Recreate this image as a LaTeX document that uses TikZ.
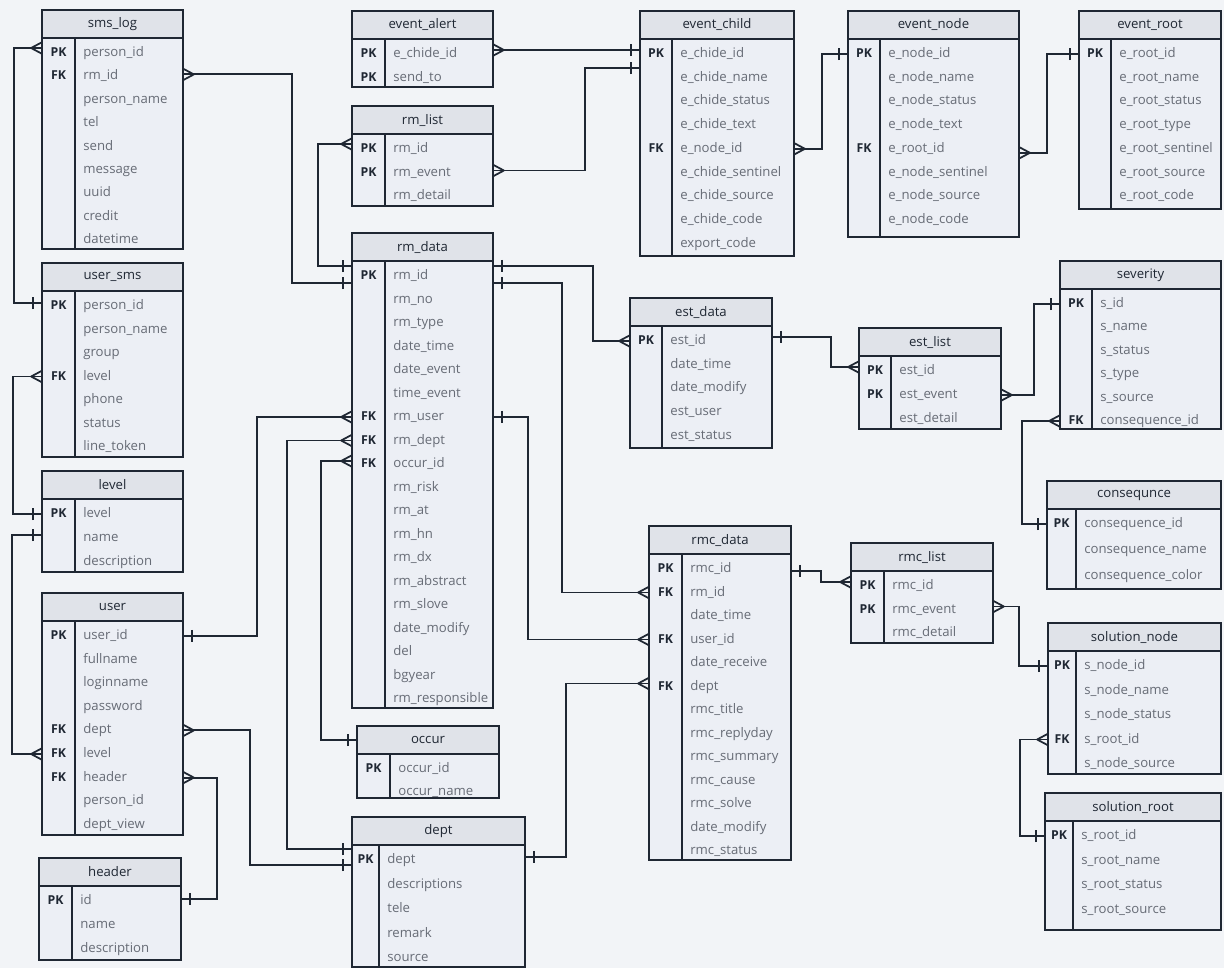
\documentclass[tikz,border=0pt]{standalone}
\usepackage{fontspec}
\setmainfont{Open Sans}
\usetikzlibrary{calc,decorations.markings}

\definecolor{pagebg}{HTML}{F2F4F7}
\definecolor{headbg}{HTML}{E0E3E9}
\definecolor{bodybg}{HTML}{ECEFF5}
\definecolor{ink}{HTML}{1F2733}
\definecolor{fieldgray}{HTML}{676C76}

\tikzset{
  tabletitle/.style={inner sep=0,minimum height=0.5cm,text=ink,font=\fontsize{7.5}{9}\selectfont},
  rowbox/.style={inner sep=0,minimum height=0},
  keytext/.style={inner sep=0,text=ink,text height=5.5pt,text depth=1.5pt,font=\fontsize{7}{9}\selectfont\bfseries},
  fieldtext/.style={anchor=west,inner sep=0,text=fieldgray,text height=5.5pt,text depth=1.5pt,font=\fontsize{7.5}{9}\selectfont},
  rel/.style={draw=ink,line width=1.1pt,postaction={decorate,decoration={markings,
    mark=at position 0 with {\draw[ink,line width=1pt] (6pt,0) -- (0,3.2pt) (6pt,0) -- (0,-3.2pt);},
    mark=at position -5pt with {\draw[ink,line width=1.1pt] (0,-3.5pt) -- (0,3.5pt);}}}}
}

% table: name, title, left, top, right, key divider, bottom, row step, rows
\newcommand{\ertable}[9]{%
  \fill[bodybg] (#3,#4) rectangle (#5,#7);
  \fill[headbg] (#3,#4) rectangle (#5,#4+28);
  \node[tabletitle,minimum width={(#5-#3)*0.02cm}] (#1) at ({(#3+#5)/2},#4+14) {#2};
  \foreach \k/\f [count=\i] in {#9}{%
    \node[rowbox,minimum width={(#5-#3)*0.02cm}] (#1-\i) at ({(#3+#5)/2},{#4+43+(\i-1)*#8}) {};
    \node[keytext] at ({(#3+#6)/2},{#4+43+(\i-1)*#8}) {\k};
    \node[fieldtext] at (#6+8,{#4+43+(\i-1)*#8}) {\f};
  }
  \draw[ink,line width=0.8pt] (#3,#4) rectangle (#5,#7) (#3,#4+28) -- (#5,#4+28) (#6,#4+28) -- (#6,#7);
}

\begin{document}
\begin{tikzpicture}[x=0.02cm,y=-0.02cm]
\useasboundingbox (0,0) rectangle (1224,968);
\fill[pagebg] (0,0) rectangle (1224,968);

% left column
\ertable{smslog}{sms\_log}{42}{10}{183}{75}{249}{23.4}{PK/person\_id, FK/rm\_id, /person\_name, /tel, /send, /message, /uuid, /credit, /datetime}
\ertable{usersms}{user\_sms}{42}{263}{183}{75}{457}{23.5}{PK/person\_id, /person\_name, /group, FK/level, /phone, /status, /line\_token}
\ertable{level}{level}{42}{471}{183}{75}{572}{24}{PK/level, /name, /description}
\ertable{user}{user}{42}{593}{183}{75}{835}{23.6}{PK/user\_id, /fullname, /loginname, /password, FK/dept, FK/level, FK/header, /person\_id, /dept\_view}
\ertable{header}{header}{39}{858}{181}{72}{960}{24}{PK/id, /name, /description}

% middle column
\ertable{eventalert}{event\_alert}{352}{11}{493}{385}{87}{23.5}{PK/e\_chide\_id, PK/send\_to}
\ertable{rmlist}{rm\_list}{352}{106}{493}{385}{206}{23.5}{PK/rm\_id, PK/rm\_event, /rm\_detail}
\ertable{rmdata}{rm\_data}{352}{233}{493}{385}{708}{23.5}{PK/rm\_id, /rm\_no, /rm\_type, /date\_time, /date\_event, /time\_event, FK/rm\_user, FK/rm\_dept, FK/occur\_id, /rm\_risk, /rm\_at, /rm\_hn, /rm\_dx, /rm\_abstract, /rm\_slove, /date\_modify, /del, /bgyear, /rm\_responsible}
\ertable{occur}{occur}{357}{726}{499}{390}{798}{23}{PK/occur\_id, /occur\_name}
\ertable{dept}{dept}{352}{817}{525}{379}{967}{24.5}{PK/dept, /descriptions, /tele, /remark, /source}

% event tables
\ertable{eventchild}{event\_child}{640}{11}{794}{672}{256}{23.7}{PK/e\_chide\_id, /e\_chide\_name, /e\_chide\_status, /e\_chide\_text, FK/e\_node\_id, /e\_chide\_sentinel, /e\_chide\_source, /e\_chide\_code, /export\_code}
\ertable{eventnode}{event\_node}{848}{11}{1019}{880}{237}{23.7}{PK/e\_node\_id, /e\_node\_name, /e\_node\_status, /e\_node\_text, FK/e\_root\_id, /e\_node\_sentinel, /e\_node\_source, /e\_node\_code}
\ertable{eventroot}{event\_root}{1079}{11}{1221}{1111}{209}{23.7}{PK/e\_root\_id, /e\_root\_name, /e\_root\_status, /e\_root\_type, /e\_root\_sentinel, /e\_root\_source, /e\_root\_code}

% right side
\ertable{estdata}{est\_data}{630}{298}{772}{662}{448}{23.7}{PK/est\_id, /date\_time, /date\_modify, /est\_user, /est\_status}
\ertable{estlist}{est\_list}{859}{328}{1001}{891}{429}{24}{PK/est\_id, PK/est\_event, /est\_detail}
\ertable{severity}{severity}{1060}{261}{1221}{1092}{429}{23.4}{PK/s\_id, /s\_name, /s\_status, /s\_type, /s\_source, FK/consequence\_id}
\ertable{consequnce}{consequnce}{1047}{481}{1221}{1076}{589}{26}{PK/consequence\_id, /consequence\_name, /consequence\_color}
\ertable{rmcdata}{rmc\_data}{649}{526}{791}{682}{860}{23.5}{PK/rmc\_id, FK/rm\_id, /date\_time, FK/user\_id, /date\_receive, FK/dept, /rmc\_title, /rmc\_replyday, /rmc\_summary, /rmc\_cause, /rmc\_solve, /date\_modify, /rmc\_status}
\ertable{rmclist}{rmc\_list}{851}{543}{993}{884}{643}{23.5}{PK/rmc\_id, PK/rmc\_event, /rmc\_detail}
\ertable{solutionnode}{solution\_node}{1048}{623}{1221}{1076}{774}{24.5}{PK/s\_node\_id, /s\_node\_name, /s\_node\_status, FK/s\_root\_id, /s\_node\_source}
\ertable{solutionroot}{solution\_root}{1045}{793}{1221}{1073}{930}{24.5}{PK/s\_root\_id, /s\_root\_name, /s\_root\_status, /s\_root\_source}

% relations, many side first
\draw[rel] ($(smslog-1.west)+(0,-5)$) -- ++(-28,0) |- ($(usersms-1.west)+(0,-3)$);
\draw[rel] ($(smslog-2.east)+(0,-2)$) -- ++(109,0) |- ($(rmdata-1.west)+(0,7)$);
\draw[rel] ($(rmlist-1.west)+(0,-5)$) -- ++(-34,0) |- ($(rmdata-1.west)+(0,-10)$);
\draw[rel] (usersms-4.west) -- ++(-29,0) |- (level-1.west);
\draw[rel] (user-6.west) -- ++(-30,0) |- ($(level-2.west)+(0,-3)$);
\draw[rel] (rmdata-7.west) -- ++(-95,0) |- (user-1.east);
\draw[rel] (rmdata-8.west) -- ++(-65,0) |- ($(dept-1.west)+(0,-11)$);
\draw[rel] ($(rmdata-9.west)+(0,-3)$) -- ++(-31,0) |- (occur.west);
\draw[rel] (user-7.east) -- ++(34,0) |- ($(header-1.east)+(0,-2)$);
\draw[rel] (user-5.east) -- ++(67,0) |- ($(dept-1.west)+(0,5)$);
\draw[rel] (estdata-1.west) -- ++(-37,0) |- ($(rmdata-1.east)+(0,-10)$);
\draw[rel] (rmcdata-2.west) -- ++(-87,0) |- ($(rmdata-1.east)+(0,7)$);
\draw[rel] (rmcdata-4.west) -- ++(-121,0) |- (rmdata-7.east);
\draw[rel] ($(rmcdata-6.west)+(0,-3)$) -- ++(-83,0) |- ($(dept-1.east)+(0,-3)$);
\draw[rel] ($(eventalert-1.east)+(0,-4)$) -- ($(eventchild-1.west)+(0,-4)$);
\draw[rel] ($(rmlist-2.east)+(0,-2)$) -- ++(92,0) |- ($(eventchild-1.west)+(0,14)$);
\draw[rel] (eventchild-5.east) -- ++(28,0) |- (eventnode-1.west);
\draw[rel] ($(eventnode-5.east)+(0,4)$) -- ++(28,0) |- (eventroot-1.west);
\draw[rel] ($(estlist-1.west)+(0,-4)$) -- ++(-28,0) |- ($(estdata-1.east)+(0,-4)$);
\draw[rel] (estlist-2.east) -- ++(33,0) |- (severity-1.west);
\draw[rel] (severity-6.west) -- ++(-38,0) |- (consequnce-1.west);
\draw[rel] ($(rmclist-1.west)+(0,-4)$) -- ++(-30,0) |- ($(rmcdata-1.east)+(0,2)$);
\draw[rel] ($(rmclist-2.east)+(0,-3)$) -- ++(26,0) |- (solutionnode-1.west);
\draw[rel] (solutionnode-4.west) -- ++(-28,0) |- (solutionroot-1.west);

\end{tikzpicture}
\end{document}
